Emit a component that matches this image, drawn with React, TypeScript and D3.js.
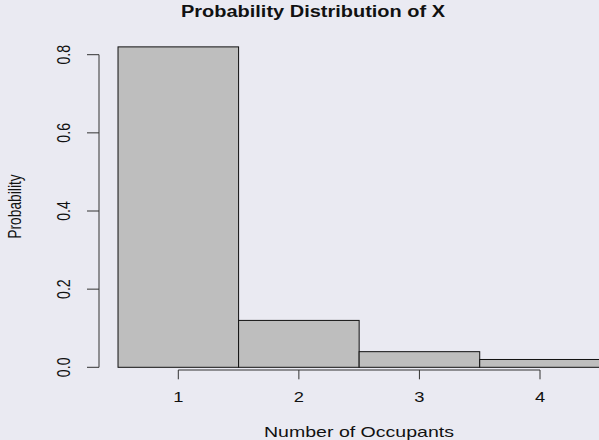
import React from "react";
import * as d3 from "d3";

const categories = [1, 2, 3, 4];
const probabilities = [0.82, 0.12, 0.04, 0.02];
const yTicks = [0, 0.2, 0.4, 0.6, 0.8];
const xTicks = [1, 2, 3, 4];
const title = "Probability Distribution of X";
const xLabel = "Number of Occupants";
const yLabel = "Probability";

const W = 599;
const H = 440;
const SX = 1.29;
const FONT = "'Liberation Sans', Arial, Helvetica, sans-serif";

export default function App() {
  const x = d3.scaleLinear().domain([1, 4]).range([178.3, 540]);
  const y = d3.scaleLinear().domain([0, 0.8]).range([367.3, 54.7]);
  const axisX = 99;
  const axisY = 370;

  return (
    <svg
      width={W}
      height={H}
      style={{ position: "absolute", left: 0, top: 0, display: "block" }}
    >
      <rect x={0} y={0} width={W} height={H} fill="#EAEAF2" />
      {/* bars */}
      {categories.map((c, i) => (
        <rect
          key={c}
          x={x(c - 0.5)}
          y={y(probabilities[i])}
          width={x(c + 0.5) - x(c - 0.5)}
          height={y(0) - y(probabilities[i])}
          fill="#BEBEBE"
          stroke="#111"
          strokeWidth={1}
        />
      ))}
      {/* y axis */}
      <line x1={axisX} x2={axisX} y1={y(0)} y2={y(0.8)} stroke="#333" strokeWidth={1} />
      {yTicks.map((t) => (
        <g key={t}>
          <line x1={axisX - 12} x2={axisX} y1={y(t)} y2={y(t)} stroke="#333" strokeWidth={1} />
          <text
            transform={`translate(70,${y(t)}) scale(${SX},1) rotate(-90)`}
            textAnchor="middle"
            fontFamily={FONT}
            fontSize={14.2}
            fill="#111"
          >
            {d3.format(".1f")(t)}
          </text>
        </g>
      ))}
      {/* x axis */}
      <line x1={x(1)} x2={x(4)} y1={axisY} y2={axisY} stroke="#333" strokeWidth={1} />
      {xTicks.map((t) => (
        <g key={t}>
          <line x1={x(t)} x2={x(t)} y1={axisY} y2={axisY + 9.3} stroke="#333" strokeWidth={1} />
          <text
            transform={`translate(${x(t)},401.7) scale(${SX},1)`}
            textAnchor="middle"
            fontFamily={FONT}
            fontSize={14.2}
            fill="#111"
          >
            {t}
          </text>
        </g>
      ))}
      {/* title */}
      <text
        transform={`translate(313,17.3)`}
        textAnchor="middle"
        fontFamily={FONT}
        fontWeight="bold"
        fontSize={15.8}
        textLength={264}
        lengthAdjust="spacingAndGlyphs"
        fill="#111"
      >
        {title}
      </text>
      {/* x label */}
      <text
        x={359}
        y={436.7}
        textAnchor="middle"
        fontFamily={FONT}
        fontSize={15}
        textLength={190}
        lengthAdjust="spacingAndGlyphs"
        fill="#111"
      >
        {xLabel}
      </text>
      {/* y label */}
      <text
        transform={`translate(20.8,206.5) scale(${SX},1) rotate(-90)`}
        textAnchor="middle"
        fontFamily={FONT}
        fontSize={13.8}
        fill="#111"
      >
        {yLabel}
      </text>
    </svg>
  );
}
